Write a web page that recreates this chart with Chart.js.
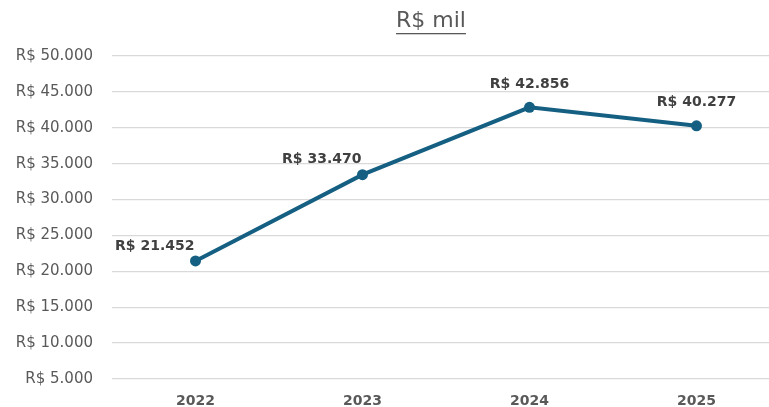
<!DOCTYPE html>
<html>
<head>
<meta charset="utf-8">
<script src="https://cdn.jsdelivr.net/npm/chart.js@4/dist/chart.umd.min.js"></script>
<style>
  html, body { margin: 0; padding: 0; background: #fff; overflow: hidden; }
  #wrap { width: 862px; height: 407px; }
</style>
</head>
<body>
<div id="wrap"><canvas id="myChart" width="862" height="407"></canvas></div>
<script>
// data
const years = ["2022", "2023", "2024", "2025"];
const revenue = [21452, 33470, 42856, 40277];
const yTicks = [5000, 10000, 15000, 20000, 25000, 30000, 35000, 40000, 45000, 50000];
const chartTitle = "R$ mil";

const FONT = "'DejaVu Sans', Arial, sans-serif";
const brl = v => "R$ " + v.toLocaleString("pt-BR");

// label placement per point: [align, gap above point]
const labelPlace = [["right", 15], ["right", 15], ["center", 23], ["center", 23]];

const titleAndLabels = {
    id: "titleAndLabels",
    afterDatasetsDraw(chart) {
        const ctx = chart.ctx;
        ctx.save();
        // title, underlined like excel
        ctx.font = "22px " + FONT;
        ctx.fillStyle = "#595959";
        ctx.textAlign = "center";
        ctx.textBaseline = "middle";
        const cx = chart.width / 2;
        ctx.fillText(chartTitle, cx, 21);
        const w = ctx.measureText(chartTitle).width;
        ctx.fillRect(cx - w / 2, 33, w, 1.3);

        // data labels
        ctx.font = "bold 14px " + FONT;
        ctx.fillStyle = "#404040";
        const meta = chart.getDatasetMeta(0);
        meta.data.forEach((pt, i) => {
            const [align, gap] = labelPlace[i];
            ctx.textAlign = align;
            ctx.fillText(brl(revenue[i]), align === "right" ? pt.x - 1 : pt.x, pt.y - gap);
        });
        ctx.restore();
    }
};

const ChartRef = document.getElementById("myChart").getContext("2d");
new Chart(ChartRef, {
    type: "line",
    data: {
        labels: years,
        datasets: [{
            label: chartTitle,
            data: revenue,
            borderColor: "#156082",
            backgroundColor: "#156082",
            borderWidth: 4,
            pointRadius: 5.5,
            pointBorderWidth: 0,
            tension: 0,
            fill: false
        }]
    },
    options: {
        responsive: false,
        animation: false,
        layout: { padding: { top: 56, right: 82, left: 0, bottom: 0 } },
        plugins: {
            legend: { display: false },
            title: { display: false },
            tooltip: { enabled: false }
        },
        scales: {
            x: {
                offset: true,
                grid: { display: false, drawTicks: false },
                border: { display: false },
                ticks: {
                    padding: 14,
                    color: "#595959",
                    font: { family: FONT, size: 14, weight: "bold" }
                },
                afterFit(scale) { scale.height = 27; }
            },
            y: {
                min: 5000,
                max: 50000,
                afterBuildTicks(scale) { scale.ticks = yTicks.map(v => ({ value: v })); },
                grid: { color: "#d9d9d9", lineWidth: 1.3, drawTicks: false },
                border: { display: false },
                ticks: {
                    padding: 19,
                    color: "#595959",
                    font: { family: FONT, size: 15 },
                    callback: v => brl(v)
                },
                afterFit(scale) { scale.width = 112; }
            }
        }
    },
    plugins: [titleAndLabels]
});
</script>
</body>
</html>
